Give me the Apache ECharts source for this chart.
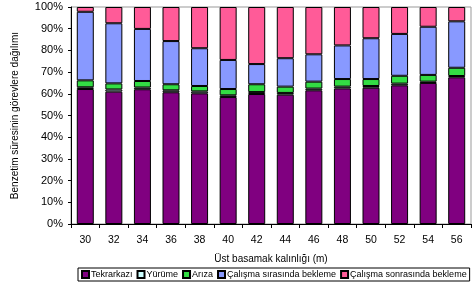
<!DOCTYPE html>
<html>
<head>
<meta charset="utf-8">
<script src="https://cdn.jsdelivr.net/npm/echarts@6/dist/echarts.min.js"></script>
<style>
  html, body { margin: 0; padding: 0; background: #fff; }
  #chart { width: 473px; height: 288px; }
</style>
</head>
<body>
<div id="chart"></div>
<script>
// kategoriler: üst basamak kalınlığı (m)
const categories = ['30', '32', '34', '36', '38', '40', '42', '44', '46', '48', '50', '52', '54', '56'];

// yüzde paylar (gözle okunmuş)
const tekrarkazi   = [62.2, 61.0, 62.1, 60.7, 60.2, 58.5, 59.9, 59.6, 61.6, 62.5, 62.8, 63.9, 65.0, 67.6];
const yurume       = [0.8, 1.0, 0.8, 0.9, 0.9, 0.8, 0.9, 0.8, 0.8, 0.8, 0.8, 0.8, 0.6, 0.6];
const ariza        = [3.2, 2.8, 3.0, 2.8, 2.5, 2.9, 3.6, 2.9, 3.2, 3.5, 3.2, 3.6, 3.1, 3.8];
const sirasinda    = [31.6, 27.7, 24.0, 19.9, 17.4, 13.4, 9.3, 13.1, 12.6, 15.5, 18.8, 19.3, 22.2, 21.4];
const sonrasinda   = [2.2, 7.5, 10.1, 15.7, 19.0, 24.4, 26.3, 23.6, 21.8, 17.7, 14.4, 12.4, 9.1, 6.6];

const seriesNames = ['Tekrarkazı', 'Yürüme', 'Arıza', 'Çalışma sırasında bekleme', 'Çalışma sonrasında bekleme'];
const seriesData = [tekrarkazi, yurume, ariza, sirasinda, sonrasinda];
const colors = ['#800080', '#ccffff', '#33dd44', '#8899ff', '#ff5b98'];

const font = 'Liberation Sans, Arial, sans-serif';

const chart = echarts.init(document.getElementById('chart'), null, { renderer: 'canvas' });

chart.setOption({
  animation: false,
  backgroundColor: '#fff',
  textStyle: { fontFamily: font, color: '#000' },
  grid: {
    left: 71, right: 2, top: 7, bottom: 64,
    show: true, borderColor: '#999', borderWidth: 1
  },
  legend: {
    data: seriesNames,
    left: 78, top: 268,
    width: 440,
    itemWidth: 7, itemHeight: 7, itemGap: 4,
    padding: [2, 3],
    borderColor: '#000', borderWidth: 1,
    icon: 'rect',
    textStyle: { fontSize: 9, fontFamily: font, color: '#000', padding: [0, 0, 0, -3] }
  },
  xAxis: {
    type: 'category',
    data: categories,
    axisLine: { lineStyle: { color: '#000' } },
    axisTick: { show: true, length: 4, lineStyle: { color: '#000' } },
    axisLabel: { fontSize: 10.5, color: '#000', margin: 11, fontFamily: font },
    name: 'Üst basamak kalınlığı (m)',
    nameLocation: 'middle',
    nameGap: 30,
    nameTextStyle: { fontSize: 10, color: '#000', fontFamily: font }
  },
  yAxis: {
    type: 'value',
    min: 0, max: 100, interval: 10,
    axisLine: { show: true, lineStyle: { color: '#000' } },
    axisTick: { show: true, length: 3, lineStyle: { color: '#000' } },
    splitLine: { show: false },
    axisLabel: { formatter: '{value}%', fontSize: 11, color: '#000', margin: 8, fontFamily: font },
    name: 'Benzetim süresinin görevlere dağılımı',
    nameLocation: 'middle',
    nameGap: 51,
    nameTextStyle: { fontSize: 10, color: '#000', fontFamily: font }
  },
  series: seriesNames.map((name, i) => ({
    name: name,
    type: 'bar',
    stack: 'toplam',
    barWidth: 17,
    data: seriesData[i],
    itemStyle: { color: colors[i], borderColor: '#000', borderWidth: 1 }
  }))
});
</script>
</body>
</html>
